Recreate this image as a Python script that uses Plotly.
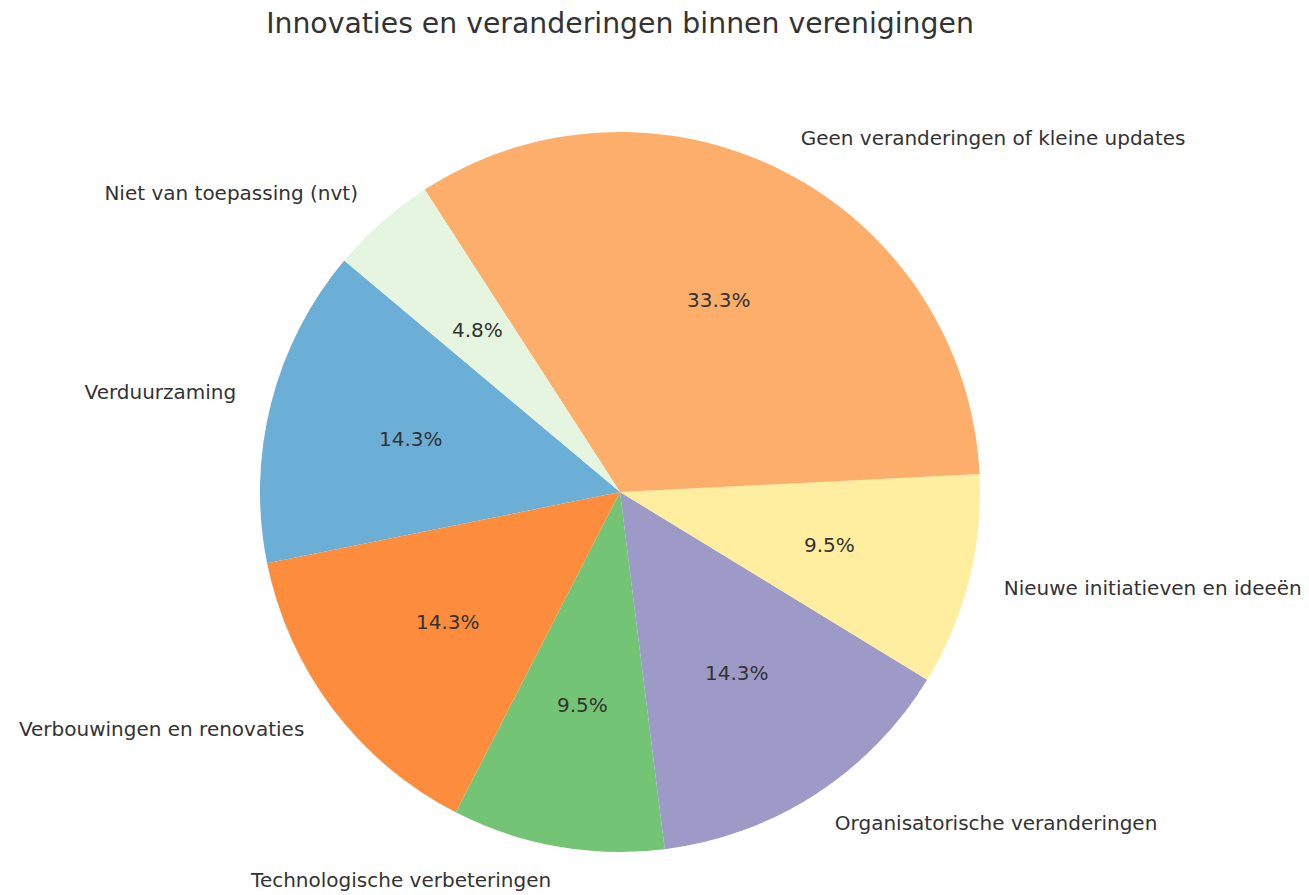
import math
import plotly.graph_objects as go

labels = [
    "Verduurzaming",
    "Verbouwingen en renovaties",
    "Technologische verbeteringen",
    "Organisatorische veranderingen",
    "Nieuwe initiatieven en ideeën",
    "Geen veranderingen of kleine updates",
    "Niet van toepassing (nvt)",
]
counts = [3, 3, 2, 3, 2, 7, 1]
colors = ["#6baed6", "#fd8d3c", "#74c476", "#9e9ac8", "#ffeda0", "#fdae6b", "#e5f5e0"]
title = "Innovaties en veranderingen binnen verenigingen"

W, H = 1309, 895
cx, cy, R = 612, 484, 360          # pie centre / radius in figure pixels
start_angle = 140                  # degrees, counterclockwise from 3 o'clock
pct_dist, lab_dist = 0.6, 1.1
rot = (90 - start_angle) - 360 * sum(counts[:1]) / sum(counts)

total = sum(counts)
mid_angles = []
acc = 0
for c in counts:
    mid_angles.append(math.radians(start_angle + 360 * (acc + c / 2) / total))
    acc += c

pct_text = [f"{100 * c / total:.1f}%" for c in counts]
pct_x = [pct_dist * math.cos(a) for a in mid_angles]
pct_y = [pct_dist * math.sin(a) for a in mid_angles]
lab_x = [lab_dist * math.cos(a) for a in mid_angles]
lab_y = [lab_dist * math.sin(a) for a in mid_angles]
lab_pos = ["middle right" if x > 0 else "middle left" for x in lab_x]

font = dict(family="DejaVu Sans", size=20, color="#333333")

fig = go.Figure()
fig.add_trace(go.Pie(
    labels=labels, values=counts, sort=False, direction="counterclockwise",
    rotation=rot, marker=dict(colors=colors, line=dict(width=0)),
    textinfo="none", showlegend=False, hoverinfo="label+percent",
    domain=dict(x=[(cx - R) / W, (cx + R) / W], y=[(H - cy - R) / H, (H - cy + R) / H]),
))
fig.add_trace(go.Scatter(
    x=lab_x, y=lab_y, mode="text", text=labels, textposition=lab_pos,
    textfont=font, hoverinfo="skip", showlegend=False, cliponaxis=False,
))
for x, y, t in zip(pct_x, pct_y, pct_text):
    fig.add_annotation(x=x, y=y, xref="x", yref="y", text=t, showarrow=False,
                       xanchor="center", yanchor="middle", font=font)
fig.update_layout(
    width=W, height=H, margin=dict(l=0, r=0, t=0, b=0),
    paper_bgcolor="white", plot_bgcolor="rgba(0,0,0,0)",
    xaxis=dict(range=[-cx / R, (W - cx) / R], visible=False, fixedrange=True),
    yaxis=dict(range=[-(H - cy) / R, cy / R], visible=False, fixedrange=True),
    title=dict(text=title, x=cx / W, xanchor="center", y=1 - 15 / H, yanchor="middle",
               yref="container", font=dict(family="DejaVu Sans", size=28.3, color="#333333")),
)
fig.write_html("out.html")
